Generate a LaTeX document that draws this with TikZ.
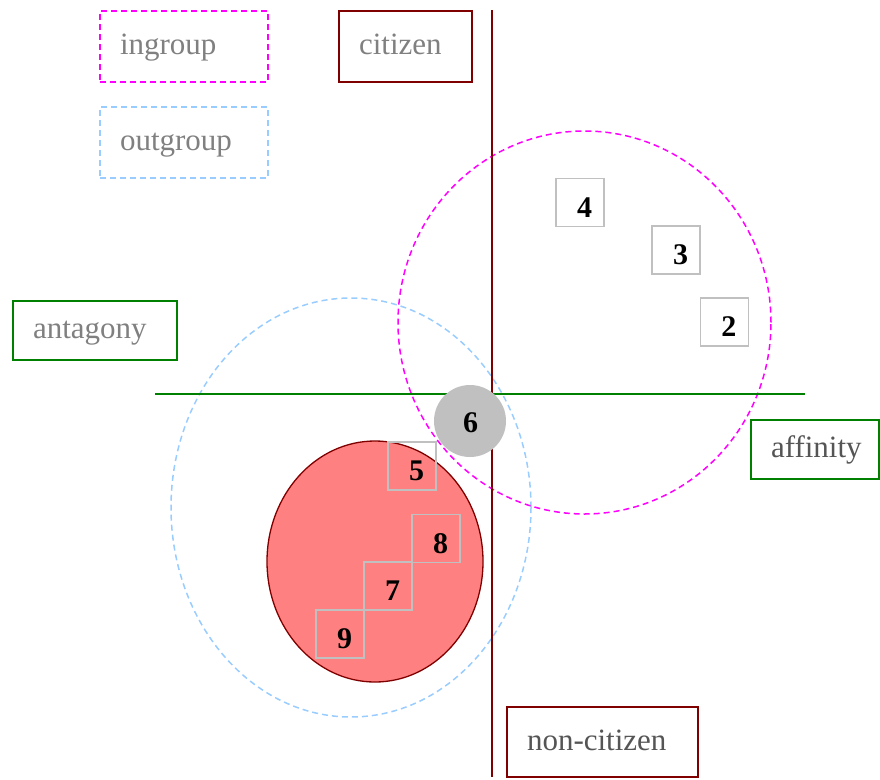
\documentclass[tikz,border=0pt]{standalone}
\usepackage{fontspec}
\setmainfont{Liberation Serif}
\usetikzlibrary{calc,shapes.geometric}
\definecolor{dred}{HTML}{800000}
\definecolor{mag}{HTML}{FF00FF}
\definecolor{lblue}{HTML}{99CCFF}
\definecolor{grn}{HTML}{008000}
\definecolor{txtgray}{HTML}{808080}
\definecolor{txtdark}{HTML}{555555}
\definecolor{sqgray}{HTML}{C0C0C0}
\definecolor{redfill}{HTML}{FF8080}
\newcommand{\lefttext}[2]{\makebox[#1][l]{#2}}
\begin{document}
\begin{tikzpicture}[x=1pt,y=-1pt,
 lab/.style={rectangle, line width=1.5pt, inner xsep=20pt, inner ysep=0pt,
   font=\fontsize{31}{36}\selectfont, text height=27pt, text depth=10.6pt},
 dsh/.style={dash pattern=on 6pt off 4pt, line width=1.5pt},
 sq/.style={draw=sqgray, line width=1.5pt, minimum size=48pt, inner sep=0pt},
 num/.style={font=\fontsize{30}{36}\selectfont\bfseries, inner sep=0pt},
 ell/.style={ellipse, inner sep=0pt, outer sep=0pt},
]
\useasboundingbox (0,0) rectangle (880,779);

% legend / labels
\node[lab, draw=mag, dsh, minimum height=71pt, text=txtgray] (ingroup) at (184,46.5) {\lefttext{128pt}{ingroup}};
\node[lab, draw=dred, minimum height=71pt, text=txtgray] (citizen) at (405.5,46.5) {\lefttext{93pt}{citizen}};
\node[lab, draw=lblue, dsh, minimum height=71pt, text=txtgray] (outgroup) at (184,142.5) {\lefttext{128pt}{outgroup}};
\node[lab, draw=grn, minimum height=59pt, text=txtgray] (antagony) at (95,330.5) {\lefttext{124pt}{antagony}};
\node[lab, draw=grn, minimum height=59pt, text=txtdark] (affinity) at (815,449.5) {\lefttext{88pt}{affinity}};
\node[lab, draw=dred, minimum height=70pt, text=txtdark] (noncitizen) at (602.5,742) {\lefttext{151pt}{non-citizen}};

% group ellipses
\node[ell, draw=lblue, dsh, minimum width=360pt, minimum height=419pt] (outell) at (351,507.5) {};
\node[ell, draw=mag, dsh, minimum width=373pt, minimum height=383pt] (inell) at (584.5,322.5) {};
\node[ell, draw=dred, fill=redfill, line width=1.3pt, minimum width=216pt, minimum height=241pt] (redell) at (375,561.5) {};

% axes
\coordinate (vtop) at (492,10);
\coordinate (vbot) at (492,777);
\coordinate (hl) at (155,394);
\coordinate (hr) at (805,394);
\draw[dred, line width=1.5pt] (vtop) -- (vbot);
\draw[grn, line width=1.5pt] (hl) -- (hr);

% circle 6
\node[circle, fill=sqgray, minimum size=72pt, inner sep=0pt] (c6) at (470,421) {};
\node[num] (n6) at (470.5,422.5) {6};

% squares
\node[sq] (s4) at (580,202.5) {};
\node[sq] (s3) at (676,250) {};
\node[sq] (s2) at (724.3,322) {};
\node[sq] (s5) at (412,466) {};
\node[sq] (s8) at (436,538.5) {};
\node[sq] (s7) at (388,586) {};
\node[sq] (s9) at (340,634) {};
\node[num] (n4) at ($(s4.center)+(4.5,5)$) {4};
\node[num] (n3) at ($(s3.center)+(4.5,5)$) {3};
\node[num] (n2) at ($(s2.center)+(4.5,5)$) {2};
\node[num] (n5) at ($(s5.center)+(4.5,5)$) {5};
\node[num] (n8) at ($(s8.center)+(4.5,5)$) {8};
\node[num] (n7) at ($(s7.center)+(4.5,5)$) {7};
\node[num] (n9) at ($(s9.center)+(4.5,5)$) {9};
\end{tikzpicture}
\end{document}
